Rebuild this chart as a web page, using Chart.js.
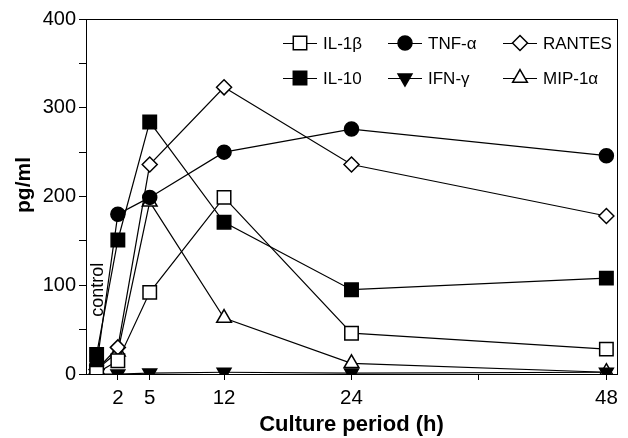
<!DOCTYPE html>
<html>
<head>
<meta charset="utf-8">
<script src="https://cdn.jsdelivr.net/npm/chart.js@4/dist/chart.umd.min.js"></script>
<style>
  body { margin: 0; background: #fff; }
  #wrap { width: 628px; height: 438px; }
</style>
</head>
<body>
<div id="wrap"><canvas id="cytoChart" width="628" height="438"></canvas></div>
<script>
// values (pg/ml)
const hours = [0, 2, 5, 12, 24, 48];
const il1b = [1, 15, 92, 199, 46, 28];
const tnfa = [10, 180, 199, 250, 276, 246];
const rantes = [5, 30, 236, 323, 236, 178];
const il10 = [22, 151, 284, 171, 95, 108];
const ifng = [0, 0, 1, 2, 1, 2];
const mip1a = [5, 25, 194, 63, 12, 2];

const seriesNames = ["IL-1β", "TNF-α", "RANTES", "IL-10", "IFN-γ", "MIP-1α"];
const xTicks = [2, 5, 12, 24, 36, 48];
const xTickLabels = ["2", "5", "12", "24", "", "48"];
const yLabelStep = 100;

const FONT = "'Liberation Sans', Arial, Helvetica, sans-serif";

function pts(vals) {
  return hours.map((h, i) => ({ x: h, y: vals[i] }));
}

function series(label, vals, style, radius, filled, rotation) {
  return {
    label: label,
    data: pts(vals),
    borderColor: "#000",
    borderWidth: 1.2,
    pointStyle: style,
    pointRadius: radius,
    pointRotation: rotation || 0,
    pointBorderWidth: 1.5,
    pointBorderColor: "#000",
    pointBackgroundColor: filled ? "#000" : "#fff",
    fill: false,
    tension: 0
  };
}

// frame round the plot area
const framePlugin = {
  id: "frame",
  afterDraw(chart) {
    const a = chart.chartArea, ctx = chart.ctx;
    ctx.save();
    ctx.strokeStyle = "#000";
    ctx.lineWidth = 1;
    ctx.strokeRect(Math.round(a.left) + 0.5, Math.round(a.top) + 0.5,
      Math.round(a.right - a.left), Math.round(a.bottom - a.top));
    ctx.restore();
  }
};

// legend drawn inside the plot, 3 columns x 2 rows
const legendCols = [283, 388, 503];
const legendRows = [43, 78];
const legendPlugin = {
  id: "boxLegend",
  afterDraw(chart) {
    const ctx = chart.ctx;
    ctx.save();
    chart.data.datasets.forEach((ds, i) => {
      const x0 = legendCols[i % 3], y = legendRows[Math.floor(i / 3)];
      ctx.strokeStyle = "#000";
      ctx.lineWidth = 1.2;
      ctx.beginPath();
      ctx.moveTo(x0, y + 0.5);
      ctx.lineTo(x0 + 34, y + 0.5);
      ctx.stroke();
      ctx.fillStyle = ds.pointBackgroundColor;
      ctx.lineWidth = ds.pointBorderWidth;
      Chart.helpers.drawPoint(ctx, {
        pointStyle: ds.pointStyle,
        rotation: ds.pointRotation,
        radius: ds.pointRadius,
        borderWidth: ds.pointBorderWidth
      }, x0 + 17, y);
      ctx.fillStyle = "#000";
      ctx.font = "17px " + FONT;
      ctx.textBaseline = "middle";
      ctx.textAlign = "left";
      ctx.fillText(ds.label, x0 + 40, y + 1);
    });
    ctx.restore();
  }
};

// rotated texts: y axis title and the "control" note beside the 0 h points
const yTitle = "pg/ml";
const yTitleAt = { x: 24, y: 185 };
const controlText = "control";
const controlAt = { x: 0, y: 95 };
const textPlugin = {
  id: "rotTexts",
  afterDraw(chart) {
    const ctx = chart.ctx;
    const put = (txt, px, py, font) => {
      ctx.save();
      ctx.translate(px, py);
      ctx.rotate(-Math.PI / 2);
      ctx.fillStyle = "#000";
      ctx.font = font;
      ctx.textAlign = "center";
      ctx.textBaseline = "middle";
      ctx.fillText(txt, 0, 0);
      ctx.restore();
    };
    put(yTitle, yTitleAt.x, yTitleAt.y, "bold 21px " + FONT);
    put(controlText,
      chart.scales.x.getPixelForValue(controlAt.x) + 1,
      chart.scales.y.getPixelForValue(controlAt.y),
      "18px " + FONT);
  }
};

new Chart(document.getElementById("cytoChart").getContext("2d"), {
  type: "line",
  data: {
    datasets: [
      series(seriesNames[0], il1b, "rect", 9.5, false),
      series(seriesNames[1], tnfa, "circle", 7, true),
      series(seriesNames[2], rantes, "rectRot", 7.5, false),
      series(seriesNames[3], il10, "rect", 9.5, true),
      series(seriesNames[4], ifng, "triangle", 8, true, 180),
      series(seriesNames[5], mip1a, "triangle", 8.5, false)
    ]
  },
  options: {
    responsive: false,
    animation: false,
    devicePixelRatio: 1,
    layout: { padding: { top: 19, right: 5, left: 0, bottom: 0 } },
    plugins: {
      legend: { display: false },
      tooltip: { enabled: false }
    },
    scales: {
      x: {
        type: "linear",
        min: -1,
        max: 49,
        afterBuildTicks(scale) {
          scale.ticks = xTicks.map(v => ({ value: v }));
        },
        afterFit(scale) { scale.height = 64; },
        ticks: {
          color: "#000",
          font: { family: FONT, size: 20.5 },
          padding: 6,
          maxRotation: 0,
          autoSkip: false,
          callback: (v, i) => xTickLabels[i]
        },
        grid: { drawOnChartArea: false, drawTicks: true, tickLength: 6, color: "#000" },
        border: { display: true, color: "#000", width: 1 },
        title: {
          display: true,
          text: "Culture period (h)",
          color: "#000",
          font: { family: FONT, size: 22, weight: "bold" },
          padding: { top: 0, bottom: 0 }
        }
      },
      y: {
        min: 0,
        max: 400,
        afterFit(scale) { scale.width = 86; },
        ticks: {
          stepSize: 50,
          color: "#000",
          font: { family: FONT, size: 20 },
          padding: 3,
          callback: v => (v % yLabelStep === 0 ? String(v) : "")
        },
        grid: { drawOnChartArea: false, drawTicks: true, tickLength: 7, color: "#000" },
        border: { display: true, color: "#000", width: 1 }
      }
    }
  },
  plugins: [framePlugin, legendPlugin, textPlugin]
});
</script>
</body>
</html>
